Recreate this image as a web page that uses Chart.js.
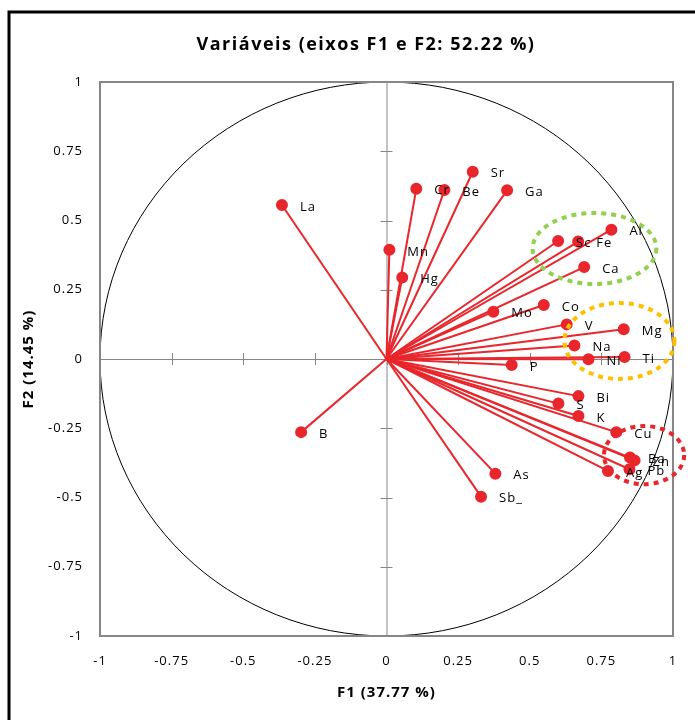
<!DOCTYPE html>
<html>
<head>
<meta charset="utf-8">
<script src="https://cdn.jsdelivr.net/npm/chart.js@4.4.0/dist/chart.umd.min.js"></script>
<style>
body { margin: 0; background: #fff; }
#wrap { width: 695px; height: 720px; position: relative; }
</style>
</head>
<body>
<div id="wrap"><canvas id="pca-chart"></canvas></div>
<script>
// Variable loadings on F1 / F2
var variables = ['La', 'B', 'Mn', 'Hg', 'Cr', 'Be', 'Sr', 'Ga', 'Al', 'Sc', 'Fe', 'Ca', 'Mo', 'Co', 'V',
                 'Mg', 'Na', 'Ni', 'Ti', 'P', 'Bi', 'S', 'K', 'Cu', 'Ba', 'Zn', 'Ag', 'Pb', 'As', 'Sb_'];
var f1Values = [-0.365, -0.298, 0.010, 0.055, 0.104, 0.202, 0.301, 0.421, 0.785, 0.599, 0.669, 0.690, 0.373, 0.549, 0.629,
                0.828, 0.656, 0.705, 0.831, 0.437, 0.670, 0.600, 0.670, 0.802, 0.850, 0.866, 0.773, 0.848, 0.380, 0.330];
var f2Values = [0.556, -0.264, 0.394, 0.294, 0.615, 0.610, 0.676, 0.609, 0.467, 0.426, 0.424, 0.332, 0.171, 0.195, 0.125,
                0.107, 0.049, -0.001, 0.007, -0.022, -0.134, -0.161, -0.206, -0.264, -0.356, -0.366, -0.404, -0.398, -0.414, -0.497];
var tickValues = [-1, -0.75, -0.5, -0.25, 0, 0.25, 0.5, 0.75, 1];

var chartTitle = 'Variáveis (eixos F1 e F2: 52.22 %)';
var xTitle = 'F1 (37.77 %)';
var yTitle = 'F2 (14.45 %)';

// dotted groups drawn over the plot
var groupCenterX = [0.726, 0.813, 0.899];
var groupCenterY = [0.399, 0.065, -0.347];
var groupRadiusX = [0.216, 0.192, 0.140];
var groupRadiusY = [0.128, 0.137, 0.105];
var groupColors = ['#92D050', '#FFC000', '#E8262B'];

var red = '#E8262B';
var axisGrey = '#868686';
var font = "'Open Sans', 'Liberation Sans', sans-serif";

var datasets = variables.map(function (name, i) {
    return {
        label: name,
        data: [{x: 0, y: 0}, {x: f1Values[i], y: f2Values[i]}],
        showLine: true,
        borderColor: red,
        borderWidth: 2,
        pointRadius: [0, 5],
        pointHoverRadius: [0, 5],
        pointBackgroundColor: red,
        pointBorderColor: red
    };
});

function useTickValues(scale) {
    scale.ticks = tickValues.map(function (v) { return {value: v}; });
}

var decorPlugin = {
    id: 'decor',
    beforeDraw: function (chart) {
        // the original's font renders loosely spaced
        chart.ctx.letterSpacing = '1px';
    },
    beforeDatasetsDraw: function (chart) {
        var ctx = chart.ctx, a = chart.chartArea;
        var sx = chart.scales.x, sy = chart.scales.y;
        var cx = sx.getPixelForValue(0), cy = sy.getPixelForValue(0);
        ctx.save();
        // unit circle
        ctx.strokeStyle = '#000';
        ctx.lineWidth = 1;
        ctx.beginPath();
        ctx.ellipse(cx, cy, sx.getPixelForValue(1) - cx, cy - sy.getPixelForValue(1), 0, 0, Math.PI * 2);
        ctx.stroke();
        // center axes with cross ticks
        ctx.strokeStyle = axisGrey;
        ctx.lineWidth = 1;
        ctx.beginPath();
        ctx.moveTo(a.left, cy + 0.5); ctx.lineTo(a.right, cy + 0.5);
        ctx.moveTo(cx + 0.5, a.top); ctx.lineTo(cx + 0.5, a.bottom);
        tickValues.forEach(function (v) {
            var px = Math.round(sx.getPixelForValue(v)) + 0.5;
            var py = Math.round(sy.getPixelForValue(v)) + 0.5;
            ctx.moveTo(px, cy - 6); ctx.lineTo(px, cy + 6);
            ctx.moveTo(cx - 6, py); ctx.lineTo(cx + 6, py);
        });
        ctx.stroke();
        // plot box
        ctx.lineWidth = 2;
        ctx.strokeRect(a.left, a.top, a.right - a.left, a.bottom - a.top);
        ctx.restore();
    },
    afterDatasetsDraw: function (chart) {
        var ctx = chart.ctx;
        var sx = chart.scales.x, sy = chart.scales.y;
        ctx.save();
        // point labels
        ctx.fillStyle = '#000';
        ctx.font = '13px ' + font;
        ctx.textBaseline = 'middle';
        ctx.textAlign = 'left';
        variables.forEach(function (name, i) {
            ctx.fillText(name, sx.getPixelForValue(f1Values[i]) + 18, sy.getPixelForValue(f2Values[i]) + 2);
        });
        // dotted groups
        ctx.lineWidth = 4;
        ctx.setLineDash([5, 5]);
        groupColors.forEach(function (c, i) {
            var px = sx.getPixelForValue(groupCenterX[i]);
            var py = sy.getPixelForValue(groupCenterY[i]);
            var rx = sx.getPixelForValue(groupCenterX[i] + groupRadiusX[i]) - px;
            var ry = py - sy.getPixelForValue(groupCenterY[i] + groupRadiusY[i]);
            ctx.strokeStyle = c;
            ctx.beginPath();
            ctx.ellipse(px, py, rx, ry, 0, 0, Math.PI * 2);
            ctx.stroke();
        });
        ctx.restore();
    },
    afterDraw: function (chart) {
        var ctx = chart.ctx;
        ctx.save();
        // outer frame (runs off the right and bottom edges)
        ctx.strokeStyle = '#000';
        ctx.lineWidth = 3;
        ctx.strokeRect(9, 12, 900, 900);
        // chart title, centred as in the original
        ctx.fillStyle = '#000';
        ctx.font = 'bold 18px ' + font;
        ctx.letterSpacing = '1.5px';
        ctx.textAlign = 'center';
        ctx.textBaseline = 'middle';
        ctx.fillText(chartTitle, 366, 45);
        ctx.restore();
    }
};

new Chart(document.getElementById('pca-chart'), {
    type: 'scatter',
    data: {datasets: datasets},
    options: {
        responsive: true,
        maintainAspectRatio: false,
        animation: false,
        layout: {padding: {left: 0, right: 22, top: 82, bottom: 0}},
        plugins: {
            legend: {display: false},
            tooltip: {enabled: false}
        },
        scales: {
            x: {
                type: 'linear',
                min: -1, max: 1,
                afterBuildTicks: useTickValues,
                grid: {display: false, drawTicks: false},
                border: {display: false},
                ticks: {color: '#000', padding: 17, font: {family: font, size: 13}, maxRotation: 0,
                        autoSkip: false, callback: function (v) { return String(v); }},
                title: {display: true, text: xTitle, color: '#000', font: {family: font, size: 15, weight: 'bold'},
                        padding: {top: 0, bottom: 18}},
                afterFit: function (s) { s.height = 84; }
            },
            y: {
                type: 'linear',
                min: -1, max: 1,
                afterBuildTicks: useTickValues,
                grid: {display: false, drawTicks: false},
                border: {display: false},
                ticks: {color: '#000', padding: 17, font: {family: font, size: 13},
                        autoSkip: false, callback: function (v) { return String(v); }},
                title: {display: true, text: yTitle, color: '#000', font: {family: font, size: 15, weight: 'bold'},
                        padding: {top: 20, bottom: 0}},
                afterFit: function (s) { s.width = 100; }
            }
        }
    },
    plugins: [decorPlugin]
});
</script>
</body>
</html>
